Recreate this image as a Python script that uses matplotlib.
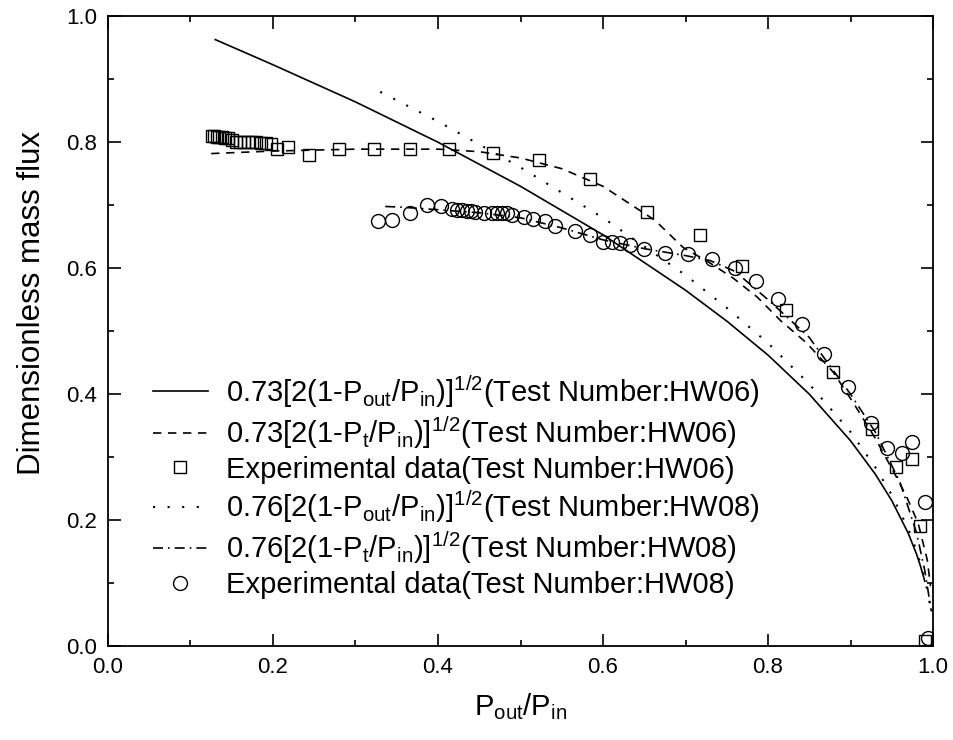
#
# Dimensionless mass flux vs. pressure ratio, tests HW06 and HW08.
#

import numpy as np
import matplotlib
matplotlib.use('Agg')
from matplotlib import pyplot as plt
from matplotlib.ticker import MultipleLocator, FormatStrFormatter

# Solid: 0.73[2(1-Pout/Pin)]^1/2 (HW06)
x_solid = [0.13, 0.2, 0.3, 0.4, 0.5, 0.6, 0.7, 0.75, 0.8, 0.85, 0.9, 0.93, 0.95, 0.97, 0.98, 0.985, 0.99]
y_solid = [0.963, 0.923, 0.864, 0.800, 0.730, 0.653, 0.565, 0.516, 0.462, 0.400, 0.326, 0.273, 0.231, 0.179, 0.146, 0.126, 0.103]

# Dashed: 0.73[2(1-Pt/Pin)]^1/2 (HW06)
x_dash = [0.125, 0.2, 0.3, 0.4, 0.45, 0.5, 0.55, 0.6, 0.663, 0.697, 0.73, 0.758, 0.787, 0.815, 0.847, 0.879, 0.903, 0.93, 0.955, 0.968, 0.982, 0.993, 0.997]
y_dash = [0.782, 0.786, 0.789, 0.789, 0.785, 0.775, 0.758, 0.73, 0.676, 0.633, 0.608, 0.584, 0.554, 0.517, 0.481, 0.435, 0.387, 0.33, 0.27, 0.237, 0.195, 0.137, 0.095]

# Squares: experimental data HW06
x_sq = [0.126, 0.129, 0.132, 0.135, 0.138, 0.142, 0.146, 0.150, 0.155, 0.160, 0.165, 0.170, 0.175,
        0.180, 0.186, 0.192, 0.198, 0.205, 0.218, 0.244, 0.280, 0.322, 0.366, 0.413, 0.467, 0.522,
        0.584, 0.653, 0.718, 0.768, 0.822, 0.879, 0.926, 0.955, 0.975, 0.984, 0.990]
y_sq = [0.810, 0.810, 0.809, 0.809, 0.808, 0.807, 0.806, 0.803, 0.801, 0.800, 0.800, 0.800, 0.800,
        0.800, 0.799, 0.798, 0.797, 0.790, 0.792, 0.779, 0.790, 0.790, 0.790, 0.790, 0.783, 0.771,
        0.741, 0.689, 0.652, 0.603, 0.533, 0.435, 0.344, 0.284, 0.297, 0.190, 0.008]

# Dotted: 0.76[2(1-Pout/Pin)]^1/2 (HW08)
x_dot = [0.33, 0.4, 0.5, 0.6, 0.7, 0.75, 0.8, 0.85, 0.9, 0.93, 0.95, 0.97, 0.98, 0.99, 0.995, 0.997]
y_dot = [0.880, 0.833, 0.760, 0.680, 0.589, 0.537, 0.481, 0.416, 0.340, 0.284, 0.240, 0.186, 0.152, 0.107, 0.076, 0.059]

# Dash-dot: 0.76[2(1-Pt/Pin)]^1/2 (HW08)
x_dd = [0.336, 0.354, 0.387, 0.45, 0.5, 0.55, 0.6, 0.65, 0.7, 0.73, 0.76, 0.8, 0.85, 0.9, 0.93, 0.96, 0.98, 0.99, 0.998]
y_dd = [0.698, 0.697, 0.694, 0.688, 0.680, 0.664, 0.645, 0.631, 0.620, 0.612, 0.595, 0.550, 0.490, 0.400, 0.340, 0.260, 0.180, 0.120, 0.055]

# Circles: experimental data HW08
x_ci = [0.327, 0.344, 0.366, 0.387, 0.404, 0.417, 0.423, 0.429, 0.435, 0.440, 0.445, 0.456, 0.465,
        0.472, 0.478, 0.484, 0.490, 0.504, 0.515, 0.530, 0.542, 0.566, 0.584, 0.600, 0.611, 0.621,
        0.633, 0.650, 0.675, 0.703, 0.732, 0.760, 0.785, 0.812, 0.841, 0.868, 0.897, 0.925, 0.944,
        0.962, 0.975, 0.990, 0.994]
y_ci = [0.675, 0.676, 0.687, 0.700, 0.698, 0.694, 0.692, 0.692, 0.690, 0.690, 0.689, 0.687, 0.687,
        0.687, 0.687, 0.687, 0.684, 0.681, 0.678, 0.675, 0.667, 0.659, 0.652, 0.641, 0.641, 0.640,
        0.637, 0.630, 0.624, 0.622, 0.614, 0.600, 0.579, 0.551, 0.511, 0.463, 0.411, 0.354, 0.314,
        0.306, 0.324, 0.229, 0.013]

labels = [r'0.73[2(1-P$_{out}$/P$_{in}$)]$^{1/2}$(Test Number:HW06)',
          r'0.73[2(1-P$_{t}$/P$_{in}$)]$^{1/2}$(Test Number:HW06)',
          'Experimental data(Test Number:HW06)',
          r'0.76[2(1-P$_{out}$/P$_{in}$)]$^{1/2}$(Test Number:HW08)',
          r'0.76[2(1-P$_{t}$/P$_{in}$)]$^{1/2}$(Test Number:HW08)',
          'Experimental data(Test Number:HW08)']

plt.rcParams['font.family'] = 'Liberation Sans'
plt.rcParams['mathtext.fontset'] = 'custom'
plt.rcParams['mathtext.rm'] = 'Liberation Sans'
plt.rcParams['mathtext.default'] = 'regular'

fig = plt.figure(figsize=(9.54, 7.40), dpi=100)
ax = fig.add_axes([0.1132, 0.127, 0.8648, 0.851])

lw = 1.2
ax.plot(x_solid, y_solid, '-', color='k', lw=lw, label=labels[0])
ax.plot(x_dash, y_dash, color='k', lw=lw, linestyle=(0, (5, 4)), label=labels[1])
ax.plot(x_sq, y_sq, 's', mfc='none', mec='k', mew=1.0, ms=9, linestyle='none', label=labels[2])
ax.plot(x_dot, y_dot, color='k', lw=1.5, linestyle=(0, (1, 6)), label=labels[3])
ax.plot(x_dd, y_dd, color='k', lw=lw, linestyle=(0, (6, 3, 1, 3)), label=labels[4])
ax.plot(x_ci, y_ci, 'o', mfc='none', mec='k', mew=1.0, ms=10, linestyle='none', label=labels[5])

ax.set_xlim(0.0, 1.0)
ax.set_ylim(0.0, 1.0)
ax.xaxis.set_major_locator(MultipleLocator(0.2))
ax.xaxis.set_minor_locator(MultipleLocator(0.1))
ax.yaxis.set_major_locator(MultipleLocator(0.2))
ax.yaxis.set_minor_locator(MultipleLocator(0.1))
ax.xaxis.set_major_formatter(FormatStrFormatter('%.1f'))
ax.yaxis.set_major_formatter(FormatStrFormatter('%.1f'))
ax.tick_params(which='both', direction='in', top=True, right=True, width=1.2, labelsize=16, pad=8)
ax.tick_params(which='major', length=9)
ax.tick_params(which='minor', length=4.5)
for s in ax.spines.values():
    s.set_linewidth(1.3)

ax.set_xlabel(r'P$_{out}$/P$_{in}$', fontsize=21)
ax.set_ylabel('Dimensionless mass flux', fontsize=22.5)
ax.xaxis.set_label_coords(0.5, -0.072)
ax.yaxis.set_label_coords(-0.074, 0.545)

leg = ax.legend(loc='upper left', bbox_to_anchor=(0.04, 0.452), frameon=False, fontsize=21,
                handlelength=1.9, handletextpad=0.6, labelspacing=0.16, borderaxespad=0)

plt.savefig('out.png', dpi=100)
